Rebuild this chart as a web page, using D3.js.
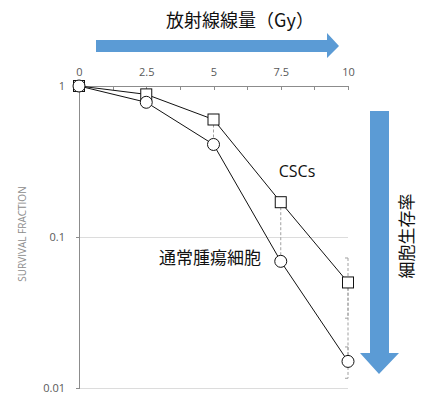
<!DOCTYPE html>
<html>
<head>
<meta charset="utf-8">
<script src="https://cdn.jsdelivr.net/npm/d3@7"></script>
<style>
  html, body { margin: 0; padding: 0; background: #fff; }
  svg { display: block; }
</style>
</head>
<body>
<svg id="chart" width="428" height="396"></svg>
<script>
// Radiation dose (Gy) and surviving fractions for each cell population
const doses = [0, 2.5, 5, 7.5, 10];
const cscSurvival = [1, 0.88, 0.6, 0.17, 0.05];
const normalSurvival = [1, 0.78, 0.41, 0.069, 0.015];

// Error bars (only at the highest dose)
const errDoses = [10];
const cscErrLow = [0.029];
const cscErrHigh = [0.0726];
const normalErrLow = [0.0116];
const normalErrHigh = [0.0187];

const xTickValues = [0, 1.25, 2.5, 3.75, 5, 6.25, 7.5, 8.75, 10];
const xLabelValues = [0, 2.5, 5, 7.5, 10];
const yTickValues = [1, 0.1, 0.01];
const yTickLabels = ["1", "0.1", "0.01"];

const svg = d3.select("#chart");
const latin = "'Open Sans', 'Noto Sans', sans-serif";
const cjk = "'Noto Sans CJK JP', 'Noto Sans', sans-serif";
const blue = "#5b9bd5";

const x = d3.scaleLinear().domain([0, 10]).range([79, 348]);
const y = d3.scaleLog().domain([0.01, 1]).range([388, 86]);

// Horizontal gridlines
svg.append("g").selectAll("line")
  .data(yTickValues.filter(v => v < 1))
  .join("line")
  .attr("x1", x(0)).attr("x2", x(10))
  .attr("y1", d => y(d)).attr("y2", d => y(d))
  .attr("stroke", "#dcdcdc").attr("stroke-width", 1)
  .attr("shape-rendering", "crispEdges");

// Y axis (log)
const yAxis = svg.append("g")
  .attr("transform", `translate(${x(0)},0)`)
  .call(d3.axisLeft(y).tickValues(yTickValues)
    .tickFormat((d, i) => yTickLabels[i]).tickSize(3).tickPadding(11));
yAxis.select(".domain").attr("stroke", "#8c8c8c").attr("shape-rendering", "crispEdges");
yAxis.selectAll(".tick line").attr("stroke", "#8c8c8c").attr("shape-rendering", "crispEdges");
yAxis.selectAll(".tick text").attr("fill", "#595959")
  .style("font-family", latin).style("font-size", "11px");

// X axis along the top, ticks pointing into the plot
const xAxis = svg.append("g")
  .attr("transform", `translate(0,${y(1)})`)
  .call(d3.axisTop(x).tickValues(xTickValues)
    .tickFormat(d => xLabelValues.includes(d) ? String(d) : "")
    .tickSizeInner(-4).tickSizeOuter(0).tickPadding(10));
xAxis.select(".domain").attr("stroke", "#8c8c8c").attr("shape-rendering", "crispEdges");
xAxis.selectAll(".tick line").attr("stroke", "#8c8c8c").attr("shape-rendering", "crispEdges");
xAxis.selectAll(".tick text").attr("fill", "#595959")
  .style("font-family", latin).style("font-size", "11px");

// Dashed connectors between the two series at each dose
const dash = "3,2";
svg.append("g").selectAll("line")
  .data(doses.map((d, i) => ({ d, hi: cscSurvival[i], lo: normalSurvival[i] })))
  .join("line")
  .attr("x1", p => x(p.d)).attr("x2", p => x(p.d))
  .attr("y1", p => y(p.hi)).attr("y2", p => y(p.lo))
  .attr("stroke", "#a0a0a0").attr("stroke-dasharray", dash);

// Error bars
function errorBars(lows, highs) {
  const g = svg.append("g").attr("stroke", "#a0a0a0").attr("fill", "none");
  errDoses.forEach((d, i) => {
    const cx = x(d);
    g.append("line").attr("x1", cx).attr("x2", cx)
      .attr("y1", y(highs[i])).attr("y2", y(lows[i]))
      .attr("stroke-dasharray", dash);
    [highs[i], lows[i]].forEach(v => {
      g.append("line").attr("x1", cx - 3).attr("x2", cx)
        .attr("y1", y(v)).attr("y2", y(v));
    });
  });
}
errorBars(cscErrLow, cscErrHigh);
errorBars(normalErrLow, normalErrHigh);

// Series lines
const line = d3.line().x((d, i) => x(doses[i])).y(d => y(d));
[cscSurvival, normalSurvival].forEach(s => {
  svg.append("path").datum(s).attr("d", line)
    .attr("fill", "none").attr("stroke", "#111").attr("stroke-width", 1);
});

// Markers: squares for CSCs, circles for ordinary tumour cells
svg.append("g").selectAll("rect")
  .data(cscSurvival).join("rect")
  .attr("x", (d, i) => x(doses[i]) - 5.5).attr("y", d => y(d) - 5.5)
  .attr("width", 11).attr("height", 11)
  .attr("fill", "#fff").attr("stroke", "#111").attr("stroke-width", 1);
svg.append("g").selectAll("circle")
  .data(normalSurvival).join("circle")
  .attr("cx", (d, i) => x(doses[i])).attr("cy", d => y(d)).attr("r", 6)
  .attr("fill", "#fff").attr("stroke", "#111").attr("stroke-width", 1);

// Y axis title
svg.append("text")
  .attr("transform", "translate(26,234) rotate(-90)")
  .attr("text-anchor", "middle")
  .attr("fill", "#8c8c8c")
  .style("font-family", latin).style("font-size", "10px")
  .text("SURVIVAL FRACTION");

// Series labels
svg.append("text").attr("x", 297).attr("y", 177).attr("text-anchor", "middle")
  .style("font-family", latin).style("font-size", "16px").attr("fill", "#111")
  .text("CSCs");
svg.append("text").attr("x", 210).attr("y", 264).attr("text-anchor", "middle")
  .style("font-family", cjk).style("font-size", "17px").attr("fill", "#111")
  .text("通常腫瘍細胞");

// Dose arrow and title
svg.append("path")
  .attr("d", d3.line()([[96, 40], [327, 40], [327, 33], [339, 46], [327, 58], [327, 52], [96, 52]]) + "Z")
  .attr("fill", blue);
svg.append("text").attr("x", 240).attr("y", 27).attr("text-anchor", "middle")
  .style("font-family", cjk).style("font-size", "18px").attr("fill", "#111")
  .text("放射線線量（Gy）");

// Survival arrow and label
svg.append("path")
  .attr("d", d3.line()([[370, 111], [389, 111], [389, 353], [399, 353], [379, 374], [360, 353], [370, 353]]) + "Z")
  .attr("fill", blue);
svg.append("text")
  .attr("transform", "translate(413,236) rotate(-90)")
  .attr("text-anchor", "middle")
  .style("font-family", cjk).style("font-size", "17px").attr("fill", "#111")
  .text("細胞生存率");
</script>
</body>
</html>
